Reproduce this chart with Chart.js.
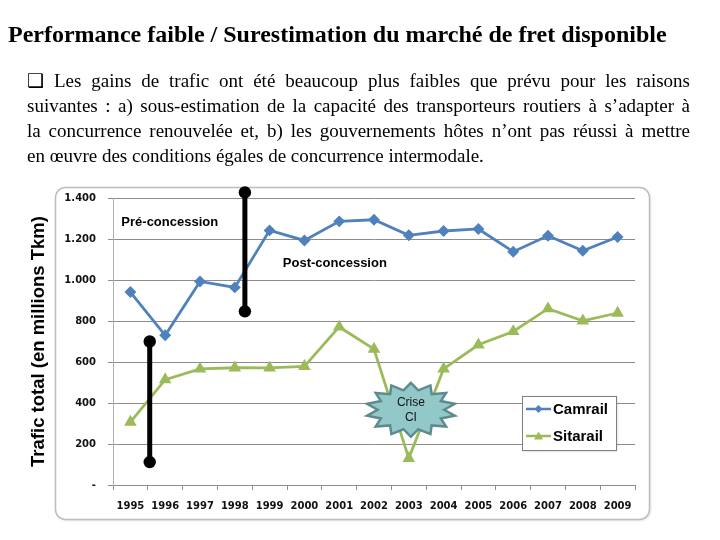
<!DOCTYPE html>
<html>
<head>
<meta charset="utf-8">
<script src="https://cdn.jsdelivr.net/npm/chart.js@4.4.1/dist/chart.umd.min.js"></script>
<style>
  body { margin: 0; background: #fff; }
  #page { position: relative; width: 720px; height: 540px; overflow: hidden; }
  #chart { position: absolute; left: 0; top: 0; }
  .title {
    position: absolute; left: 8px; top: 20px; white-space: nowrap;
    font: bold 24px/28px "Liberation Serif", "Times New Roman", serif; color: #000;
  }
  .para {
    position: absolute; left: 27px; top: 68px; width: 663px;
    font: 19px/25px "Liberation Serif", "Times New Roman", serif; color: #000;
  }
  .para div { text-align: justify; text-align-last: justify; white-space: nowrap; }
  .para div.last { text-align-last: left; }
</style>
</head>
<body>
<div id="page">
  <canvas id="chart" width="720" height="540"></canvas>
  <div class="title">Performance faible / Surestimation du marché de fret disponible</div>
  <div class="para">
    <div>❑ Les gains de trafic ont été beaucoup plus faibles que prévu pour les raisons</div>
    <div>suivantes : a) sous-estimation de la capacité des transporteurs routiers à s’adapter à</div>
    <div>la concurrence renouvelée et, b) les gouvernements hôtes n’ont pas réussi à mettre</div>
    <div class="last">en œuvre des conditions égales de concurrence intermodale.</div>
  </div>
</div>
<script>
// données (trafic en millions Tkm)
const years = ["1995", "1996", "1997", "1998", "1999", "2000", "2001", "2002",
  "2003", "2004", "2005", "2006", "2007", "2008", "2009"];
const camrail = [941, 730, 993, 964, 1242, 1193, 1286, 1294, 1218, 1239, 1249, 1138, 1216, 1143, 1210];
const sitarail = [307, 514, 566, 572, 571, 579, 771, 663, 130, 566, 684, 749, 860, 801, 839];
const yTicks = [0, 200, 400, 600, 800, 1000, 1200, 1400];

const BLUE = "#4f81bd";
const GREEN = "#9bbb59";

// annotations, en unités des axes (index d'année, valeur)
const bars = [
  { x: 3.29, from: 1427, to: 847 },
  { x: 0.555, from: 700, to: 112 },
];
const notes = [
  { text: "Pré-concession", x: -0.26, y: 1283 },
  { text: "Post-concession", x: 4.38, y: 1080 },
];
const crisis = { lines: ["Crise", "CI"], x: 8.06, y: 367 };

// cadre arrondi autour du graphique
const framePlugin = {
  id: "frame",
  beforeDraw(chart) {
    const ctx = chart.ctx;
    ctx.save();
    ctx.fillStyle = "#fff";
    ctx.fillRect(0, 0, chart.width, chart.height);
    ctx.shadowColor = "rgba(0,0,0,0.15)";
    ctx.shadowBlur = 3;
    ctx.shadowOffsetX = 1;
    ctx.shadowOffsetY = 1;
    ctx.beginPath();
    ctx.roundRect(55.5, 187.5, 594, 332, 10);
    ctx.fillStyle = "#fff";
    ctx.fill();
    ctx.shadowColor = "transparent";
    ctx.strokeStyle = "#bdbdbd";
    ctx.lineWidth = 1.5;
    ctx.stroke();
    ctx.restore();
  },
};

function drawStar(ctx, cx, cy, rx, ry, points) {
  ctx.beginPath();
  for (let i = 0; i < points * 2; i++) {
    const a = (Math.PI * i) / points - Math.PI / 2;
    const k = i % 2 === 0 ? 1 : 0.74;
    const px = cx + Math.cos(a) * rx * k;
    const py = cy + Math.sin(a) * ry * k;
    if (i === 0) ctx.moveTo(px, py);
    else ctx.lineTo(px, py);
  }
  ctx.closePath();
}

const annotationPlugin = {
  id: "annotations",
  afterDatasetsDraw(chart) {
    const ctx = chart.ctx;
    const xs = chart.scales.x;
    const ys = chart.scales.y;
    ctx.save();

    // barres verticales noires
    bars.forEach((b) => {
      const x = xs.getPixelForValue(b.x);
      const y1 = ys.getPixelForValue(b.from);
      const y2 = ys.getPixelForValue(b.to);
      ctx.strokeStyle = "#000";
      ctx.lineWidth = 5;
      ctx.beginPath();
      ctx.moveTo(x, y1);
      ctx.lineTo(x, y2);
      ctx.stroke();
      ctx.fillStyle = "#000";
      [y1, y2].forEach((y) => {
        ctx.beginPath();
        ctx.arc(x, y, 6.2, 0, Math.PI * 2);
        ctx.fill();
      });
    });

    // textes
    ctx.fillStyle = "#000";
    ctx.font = "bold 13px 'Liberation Sans', Arial, sans-serif";
    ctx.textAlign = "left";
    ctx.textBaseline = "middle";
    notes.forEach((n) => {
      ctx.fillText(n.text, xs.getPixelForValue(n.x), ys.getPixelForValue(n.y));
    });

    // étoile "Crise CI"
    const cx = xs.getPixelForValue(crisis.x);
    const cy = ys.getPixelForValue(crisis.y);
    drawStar(ctx, cx, cy, 45, 27, 14);
    ctx.fillStyle = "#93c8c9";
    ctx.fill();
    ctx.strokeStyle = "#5e8a90";
    ctx.lineWidth = 2.5;
    ctx.lineJoin = "miter";
    ctx.stroke();
    ctx.fillStyle = "#111";
    ctx.font = "12px 'Liberation Sans', Arial, sans-serif";
    ctx.textAlign = "center";
    ctx.fillText(crisis.lines[0], cx, cy - 7);
    ctx.fillText(crisis.lines[1], cx, cy + 8);

    // légende
    const lx = chart.chartArea.right - 113;
    const ly = 396;
    ctx.shadowColor = "rgba(0,0,0,0.25)";
    ctx.shadowBlur = 2;
    ctx.shadowOffsetX = 1;
    ctx.shadowOffsetY = 1;
    ctx.fillStyle = "#fff";
    ctx.fillRect(lx, ly, 94, 54);
    ctx.shadowColor = "transparent";
    ctx.strokeStyle = "#7f7f7f";
    ctx.lineWidth = 1;
    ctx.strokeRect(lx + 0.5, ly + 0.5, 94, 54);
    ctx.textAlign = "left";
    ctx.font = "bold 15px 'Liberation Sans', Arial, sans-serif";
    chart.data.datasets.forEach((ds, i) => {
      const y = ly + 13 + i * 27;
      ctx.strokeStyle = ds.borderColor;
      ctx.lineWidth = 2.5;
      ctx.beginPath();
      ctx.moveTo(lx + 4, y);
      ctx.lineTo(lx + 29, y);
      ctx.stroke();
      ctx.fillStyle = ds.borderColor;
      ctx.beginPath();
      if (ds.pointStyle === "triangle") {
        ctx.moveTo(lx + 16.5, y - 4.5);
        ctx.lineTo(lx + 21, y + 3.5);
        ctx.lineTo(lx + 12, y + 3.5);
      } else {
        ctx.moveTo(lx + 16.5, y - 4);
        ctx.lineTo(lx + 20.5, y);
        ctx.lineTo(lx + 16.5, y + 4);
        ctx.lineTo(lx + 12.5, y);
      }
      ctx.closePath();
      ctx.fill();
      ctx.fillStyle = "#000";
      ctx.fillText(ds.label, lx + 31, y + 1);
    });
    ctx.restore();
  },
};

const chart = new Chart(document.getElementById("chart"), {
  type: "line",
  data: {
    labels: years,
    datasets: [
      {
        label: "Camrail",
        data: camrail,
        borderColor: BLUE,
        backgroundColor: BLUE,
        borderWidth: 2.8,
        pointStyle: "rectRot",
        pointRadius: 4,
        tension: 0,
      },
      {
        label: "Sitarail",
        data: sitarail,
        borderColor: GREEN,
        backgroundColor: GREEN,
        borderWidth: 2.8,
        pointStyle: "triangle",
        pointRadius: 4.5,
        tension: 0,
      },
    ],
  },
  options: {
    responsive: false,
    animation: false,
    layout: {
      padding: { left: 0, right: 85, top: 198, bottom: 0 },
    },
    plugins: {
      legend: { display: false },
      tooltip: { enabled: false },
    },
    scales: {
      x: {
        offset: true,
        border: { color: "#8c8c8c" },
        grid: {
          drawOnChartArea: false,
          offset: true,
          tickLength: 5,
          color: "#8c8c8c",
        },
        ticks: {
          color: "#111",
          padding: 10,
          maxRotation: 0,
          autoSkip: false,
          font: { family: "'DejaVu Sans'", weight: "bold", size: 10 },
        },
        afterFit: (scale) => {
          scale.height = 55;
        },
      },
      y: {
        min: 0,
        max: 1400,
        afterBuildTicks: (scale) => {
          scale.ticks = yTicks.map((v) => ({ value: v }));
        },
        border: { color: "#b0b0b0" },
        grid: {
          color: "#8c8c8c",
          tickLength: 5,
        },
        ticks: {
          color: "#111",
          padding: 12,
          font: { family: "'DejaVu Sans'", weight: "bold", size: 10 },
          callback: (v) => (v === 0 ? "-" : v.toLocaleString("de-DE")),
        },
        title: {
          display: true,
          text: "Trafic total (en millions Tkm)",
          color: "#000",
          padding: { top: 28, bottom: 0 },
          font: { family: "'Liberation Sans'", weight: "bold", size: 18.5 },
        },
        afterFit: (scale) => {
          scale.width = 113;
        },
      },
    },
  },
  plugins: [framePlugin, annotationPlugin],
});
</script>
</body>
</html>
